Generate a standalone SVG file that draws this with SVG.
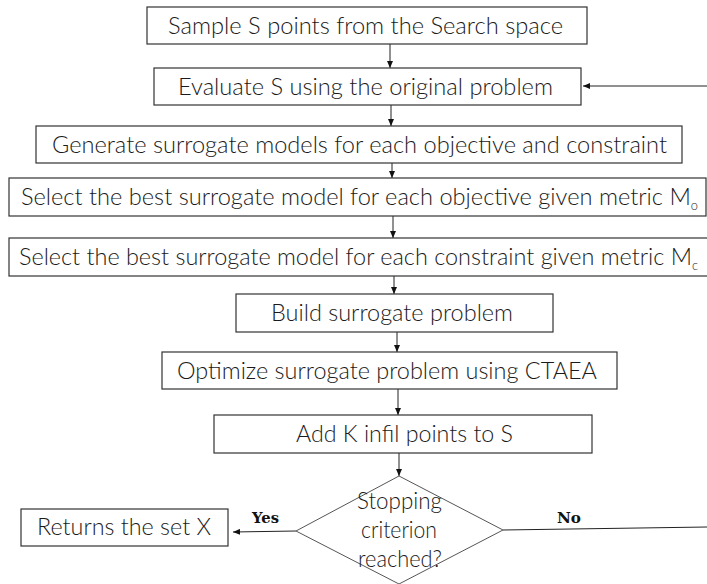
<svg xmlns="http://www.w3.org/2000/svg" width="707" height="584" viewBox="0 0 707 584">
<style>
.box{fill:#fff;stroke:#333;stroke-width:1.2}
.t{font-family:Lato,"Open Sans","Liberation Sans",sans-serif;font-weight:300;font-size:24px;fill:#1a1a1a}
.dt{font-family:Lato,"Open Sans","Liberation Sans",sans-serif;font-weight:300;font-size:24px;fill:#1a1a1a}
.sub{font-size:13px}
.lbl{font-family:"DejaVu Serif","Liberation Serif",serif;font-weight:bold;font-size:15px;fill:#111}
.c{fill:none;stroke:#222;stroke-width:1}
</style>
<defs>
<marker id="ah" markerUnits="userSpaceOnUse" markerWidth="8" markerHeight="6" refX="7" refY="3" orient="auto">
<path d="M0,0 L7,3 L0,6 z" fill="#111"/>
</marker>
</defs>
<g id="connectors">
<line class="c" x1="390" y1="44" x2="390" y2="68" marker-end="url(#ah)"/>
<line class="c" x1="391" y1="105" x2="391" y2="126" marker-end="url(#ah)"/>
<line class="c" x1="392" y1="163" x2="392" y2="178" marker-end="url(#ah)"/>
<line class="c" x1="393" y1="216" x2="393" y2="238" marker-end="url(#ah)"/>
<line class="c" x1="394" y1="276" x2="394" y2="294" marker-end="url(#ah)"/>
<line class="c" x1="397" y1="332" x2="397" y2="352" marker-end="url(#ah)"/>
<line class="c" x1="398" y1="389" x2="398" y2="415" marker-end="url(#ah)"/>
<line class="c" x1="399" y1="453" x2="399" y2="476" marker-end="url(#ah)"/>
<line class="c" x1="707" y1="86" x2="583" y2="86" marker-end="url(#ah)"/>
<line class="c" x1="296" y1="531" x2="233" y2="532" marker-end="url(#ah)"/>
<line class="c" x1="503" y1="530" x2="707" y2="527"/>
<text class="lbl" x="252" y="523" textLength="27" lengthAdjust="spacingAndGlyphs">Yes</text>
<text class="lbl" x="557" y="523" textLength="24" lengthAdjust="spacingAndGlyphs">No</text>
</g>
<g id="n1">
<rect class="box" x="147" y="7" width="440" height="37"/>
<text class="t" x="168" y="34" textLength="395" lengthAdjust="spacingAndGlyphs">Sample S points from the Search space</text>
</g>
<g id="n2">
<rect class="box" x="154" y="68" width="427" height="37"/>
<text class="t" x="178" y="95" textLength="375" lengthAdjust="spacingAndGlyphs">Evaluate S using the original problem</text>
</g>
<g id="n3">
<rect class="box" x="36" y="126" width="646" height="37"/>
<text class="t" x="52" y="153" textLength="615" lengthAdjust="spacingAndGlyphs">Generate surrogate models for each objective and constraint</text>
</g>
<g id="n4">
<rect class="box" x="9" y="178" width="697" height="38"/>
<text class="t" x="21" y="205" textLength="677" lengthAdjust="spacingAndGlyphs">Select the best surrogate model for each objective given metric M<tspan class="sub" dy="5">o</tspan></text>
</g>
<g id="n5">
<rect class="box" x="9" y="238" width="700" height="38"/>
<text class="t" x="19" y="265" textLength="679" lengthAdjust="spacingAndGlyphs">Select the best surrogate model for each constraint given metric M<tspan class="sub" dy="5">c</tspan></text>
</g>
<g id="n6">
<rect class="box" x="236" y="294" width="317" height="38"/>
<text class="t" x="271" y="321" textLength="242" lengthAdjust="spacingAndGlyphs">Build surrogate problem</text>
</g>
<g id="n7">
<rect class="box" x="162" y="352" width="455" height="37"/>
<text class="t" x="177" y="379" textLength="420" lengthAdjust="spacingAndGlyphs">Optimize surrogate problem using CTAEA</text>
</g>
<g id="n8">
<rect class="box" x="214" y="415" width="378" height="38"/>
<text class="t" x="296" y="442" textLength="217" lengthAdjust="spacingAndGlyphs">Add K infil points to S</text>
</g>
<g id="decision">
<polygon points="399,476 503,530 399,584 296,531" fill="none" stroke="#555" stroke-width="1"/>
<text class="dt" x="357" y="509" textLength="85" lengthAdjust="spacingAndGlyphs">Stopping</text>
<text class="dt" x="361" y="538" textLength="76" lengthAdjust="spacingAndGlyphs">criterion</text>
<text class="dt" x="358" y="567" textLength="84" lengthAdjust="spacingAndGlyphs">reached?</text>
</g>
<g id="result">
<rect class="box" x="21" y="509" width="207" height="37"/>
<text class="t" x="37" y="535" textLength="174" lengthAdjust="spacingAndGlyphs">Returns the set X</text>
</g>
</svg>
